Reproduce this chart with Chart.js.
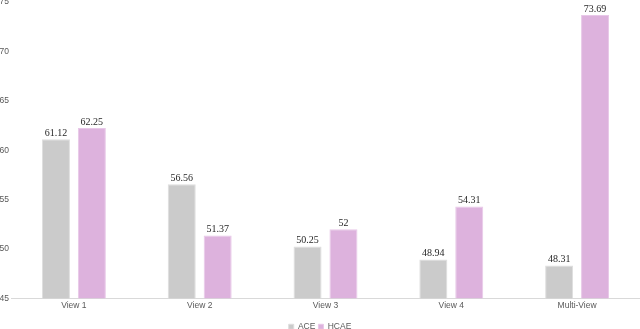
<!DOCTYPE html>
<html><head><meta charset="utf-8">
<script src="https://cdn.jsdelivr.net/npm/chart.js@4/dist/chart.umd.min.js"></script>
<style>
html,body{margin:0;padding:0;background:#fff;overflow:hidden}
#wrap{position:relative;width:640px;height:329px;overflow:hidden}
#box{position:absolute;left:0px;top:-5px;width:640px;height:346px}
</style></head><body>
<div id="wrap"><div id="box"><canvas id="c"></canvas></div></div>
<script>
const categories = ["View 1","View 2","View 3","View 4","Multi-View"];
const aceValues = [61.12, 56.56, 50.25, 48.94, 48.31];
const hcaeValues = [62.25, 51.37, 52, 54.31, 73.69];
const yTicks = [45, 50, 55, 60, 65, 70, 75];

const labelPlugin = {
  id: 'barLabels',
  afterDatasetsDraw(chart) {
    const ctx = chart.ctx;
    ctx.save();
    ctx.font = '10px "Liberation Serif", "DejaVu Serif", serif';
    ctx.fillStyle = '#262626';
    ctx.textAlign = 'center';
    ctx.textBaseline = 'bottom';
    chart.data.datasets.forEach((ds, i) => {
      chart.getDatasetMeta(i).data.forEach((bar, j) => {
        ctx.fillText(String(ds.data[j]), bar.x, bar.y - 1);
      });
    });
    ctx.restore();
  }
};

const tickFont = {family: '"Liberation Sans", "Open Sans", sans-serif', size: 8.5};

new Chart(document.getElementById('c'), {
  type: 'bar',
  data: {
    labels: categories,
    datasets: [
      {label: 'ACE', data: aceValues, backgroundColor: '#cbcbcb', borderColor:'#dedede', borderWidth: 1},
      {label: 'HCAE', data: hcaeValues, backgroundColor: '#ddb2dd', borderColor:'#e8c8e8', borderWidth: 1}
    ]
  },
  options: {
    responsive: true,
    maintainAspectRatio: false,
    animation: false,
    layout: {padding: {top: 0, right: 0, bottom: 0, left: 0}},
    datasets: {bar: {categoryPercentage: 0.571, barPercentage: 0.78}},
    scales: {
      x: {
        grid: {display: false, drawTicks: false},
        border: {display: true, color: '#d9d9d9', width: 1},
        afterFit(axis) { axis.height += 7; },
        ticks: {color: '#595959', font: tickFont, padding: 2}
      },
      y: {
        min: 45, max: 75,
        afterBuildTicks(axis) { axis.ticks = yTicks.map(v => ({value: v})); },
        afterFit(axis) { axis.width = 11; },
        grid: {display: false, drawTicks: false},
        border: {display: false},
        ticks: {color: '#595959', font: tickFont, padding: 2}
      }
    },
    plugins: {
      legend: {
        position: 'bottom',
        labels: {boxWidth: 5, boxHeight: 5, padding: 3, color: '#595959',
          font: {family: '"Liberation Sans", "Open Sans", sans-serif', size: 8.5}}
      },
      tooltip: {enabled: false}
    }
  },
  plugins: [labelPlugin]
});
</script>
</body></html>
